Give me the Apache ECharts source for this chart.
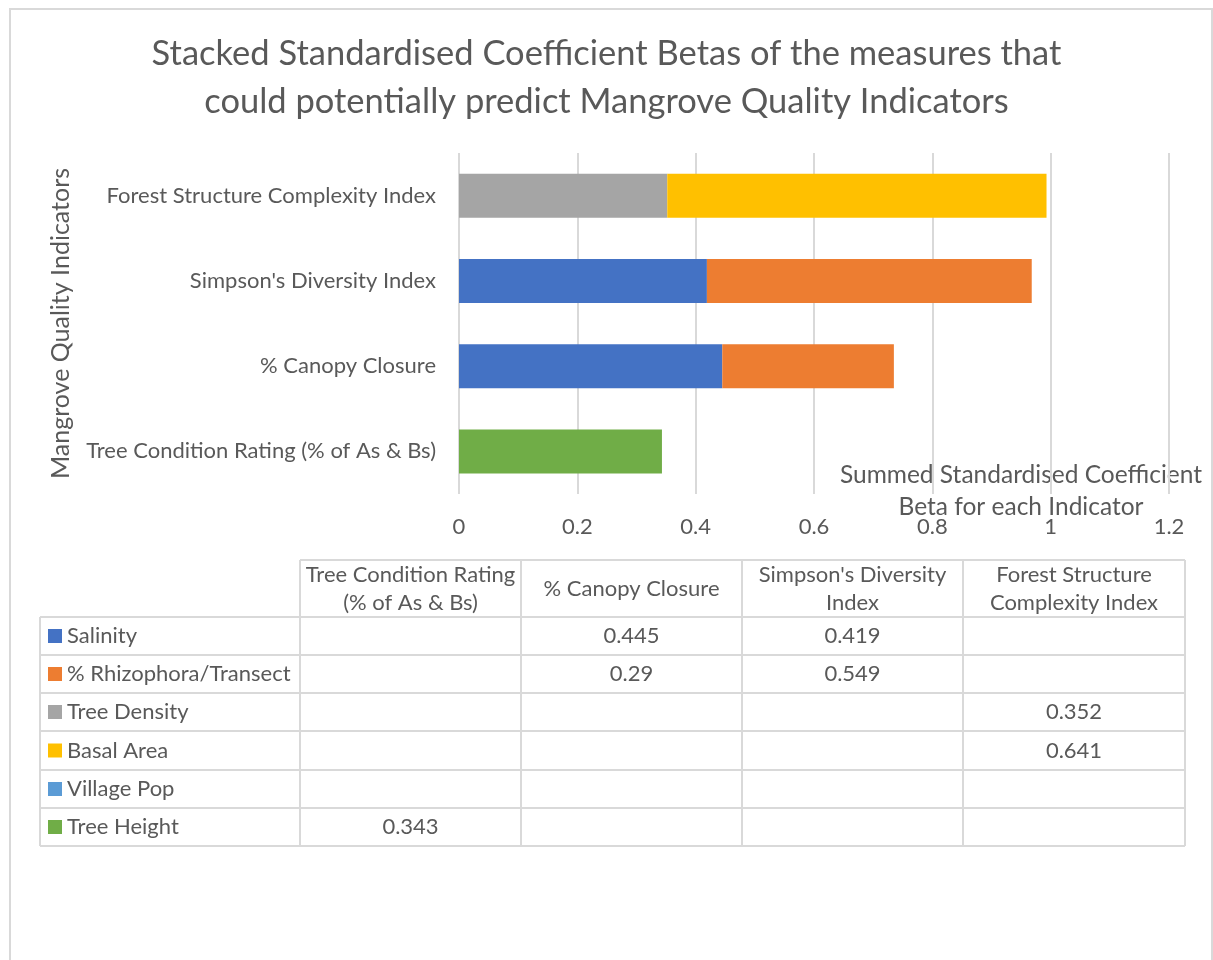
<!DOCTYPE html>
<html>
<head>
<meta charset="utf-8">
<script src="https://cdn.jsdelivr.net/npm/echarts@6/dist/echarts.min.js"></script>
<style>
  html, body { margin: 0; padding: 0; background: #ffffff; }
  #chart { width: 1213px; height: 960px; }
</style>
</head>
<body>
<div id="chart"></div>
<script>
// Mangrove quality indicators (bottom to top on the y axis, left to right in the table)
const indicators = [
  'Tree Condition Rating (% of As & Bs)',
  '% Canopy Closure',
  "Simpson's Diversity Index",
  'Forest Structure Complexity Index'
];
// Two-line headers used in the data table
const tableHeaders = [
  ['Tree Condition Rating', '(% of As & Bs)'],
  ['% Canopy Closure'],
  ["Simpson's Diversity", 'Index'],
  ['Forest Structure', 'Complexity Index']
];

// Standardised coefficient betas per predictor measure
const measures = ['Salinity', '% Rhizophora/Transect', 'Tree Density', 'Basal Area', 'Village Pop', 'Tree Height'];
const salinity     = [null, 0.445, 0.419, null];
const rhizophora   = [null, 0.29, 0.549, null];
const treeDensity  = [null, null, null, 0.352];
const basalArea    = [null, null, null, 0.641];
const villagePop   = [null, null, null, null];
const treeHeight   = [0.343, null, null, null];
const seriesValues = [salinity, rhizophora, treeDensity, basalArea, villagePop, treeHeight];
const colors = ['#4472C4', '#ED7D31', '#A5A5A5', '#FFC000', '#5B9BD5', '#70AD47'];

const xTicks = [0, 0.2, 0.4, 0.6, 0.8, 1, 1.2];

const FONT = 'Lato, "Open Sans", sans-serif';
const TEXT = '#595959';
const BORDER = '#d9d9d9';

// Data table geometry
const colEdges = [40, 300, 521, 742, 963, 1185];
const headerTop = 560;
const rowEdges = [617, 655, 693, 731, 770, 808, 846];

function buildTable() {
  const g = [];
  const line = (x1, y1, x2, y2) => g.push({
    type: 'line', silent: true,
    shape: { x1, y1, x2, y2 },
    style: { stroke: BORDER, lineWidth: 2 }
  });
  // header row (no cell above the legend column)
  line(colEdges[1], headerTop, colEdges[5], headerTop);
  for (let c = 1; c < colEdges.length; c++) line(colEdges[c], headerTop, colEdges[c], rowEdges[rowEdges.length - 1]);
  line(colEdges[0], rowEdges[0], colEdges[0], rowEdges[rowEdges.length - 1]);
  rowEdges.forEach(y => line(colEdges[0], y, colEdges[5], y));

  // header labels
  tableHeaders.forEach((lines, i) => {
    const cx = (colEdges[i + 1] + colEdges[i + 2]) / 2;
    g.push({
      type: 'text', silent: true,
      x: cx, y: (headerTop + rowEdges[0]) / 2,
      style: {
        text: lines.join('\n'), align: 'center', verticalAlign: 'middle',
        font: '22px ' + FONT, fill: TEXT, lineHeight: 28
      }
    });
  });

  // rows: legend key + measure name + values
  measures.forEach((m, r) => {
    const cy = (rowEdges[r] + rowEdges[r + 1]) / 2;
    g.push({
      type: 'rect', silent: true,
      shape: { x: 48, y: cy - 7, width: 14, height: 14 },
      style: { fill: colors[r] }
    });
    g.push({
      type: 'text', silent: true,
      x: 67, y: cy,
      style: { text: m, align: 'left', verticalAlign: 'middle', font: '22px ' + FONT, fill: TEXT }
    });
    seriesValues[r].forEach((v, c) => {
      if (v === null) return;
      g.push({
        type: 'text', silent: true,
        x: (colEdges[c + 1] + colEdges[c + 2]) / 2, y: cy,
        style: { text: String(v), align: 'center', verticalAlign: 'middle', font: '22px ' + FONT, fill: TEXT }
      });
    });
  });
  return g;
}

const chart = echarts.init(document.getElementById('chart'), null, { renderer: 'canvas' });

chart.setOption({
  animation: false,
  backgroundColor: '#ffffff',
  title: {
    text: 'Stacked Standardised Coefficient Betas of the measures that\ncould potentially predict Mangrove Quality Indicators',
    left: 'center',
    top: 25,
    textStyle: { fontFamily: FONT, fontWeight: 'normal', fontSize: 34.5, color: TEXT, lineHeight: 48 }
  },
  grid: { left: 459, right: 44, top: 153, height: 341, containLabel: false },
  xAxis: {
    type: 'value',
    min: 0, max: 1.2, interval: 0.2,
    axisLine: { show: false },
    axisTick: { show: false },
    splitLine: { show: true, lineStyle: { color: BORDER, width: 2 } },
    axisLabel: {
      margin: 22, fontFamily: FONT, fontSize: 22, color: TEXT,
      formatter: v => { const t = xTicks.find(x => Math.abs(x - v) < 1e-9); return String(t !== undefined ? t : v); }
    }
  },
  yAxis: {
    type: 'category',
    data: indicators,
    axisLine: { show: false },
    axisTick: { show: false },
    axisLabel: { margin: 23, fontFamily: FONT, fontSize: 22, color: TEXT },
    name: 'Mangrove Quality Indicators',
    nameLocation: 'middle',
    nameRotate: 90,
    nameGap: 386,
    nameTextStyle: { fontFamily: FONT, fontSize: 25, color: TEXT }
  },
  series: measures.map((m, i) => ({
    name: m,
    type: 'bar',
    stack: 'total',
    barWidth: 44,
    data: seriesValues[i],
    itemStyle: { color: colors[i] }
  })),
  graphic: [
    // chart frame
    {
      type: 'rect', silent: true,
      shape: { x: 10, y: 9, width: 1202, height: 960 },
      style: { fill: 'none', stroke: BORDER, lineWidth: 2 }
    },
    // value axis title
    {
      type: 'text', silent: true,
      x: 1021, y: 491,
      style: {
        text: 'Summed Standardised Coefficient\nBeta for each Indicator',
        align: 'center', verticalAlign: 'middle',
        font: '24.5px ' + FONT, fill: TEXT, lineHeight: 32
      }
    },
    ...buildTable()
  ]
});
</script>
</body>
</html>
